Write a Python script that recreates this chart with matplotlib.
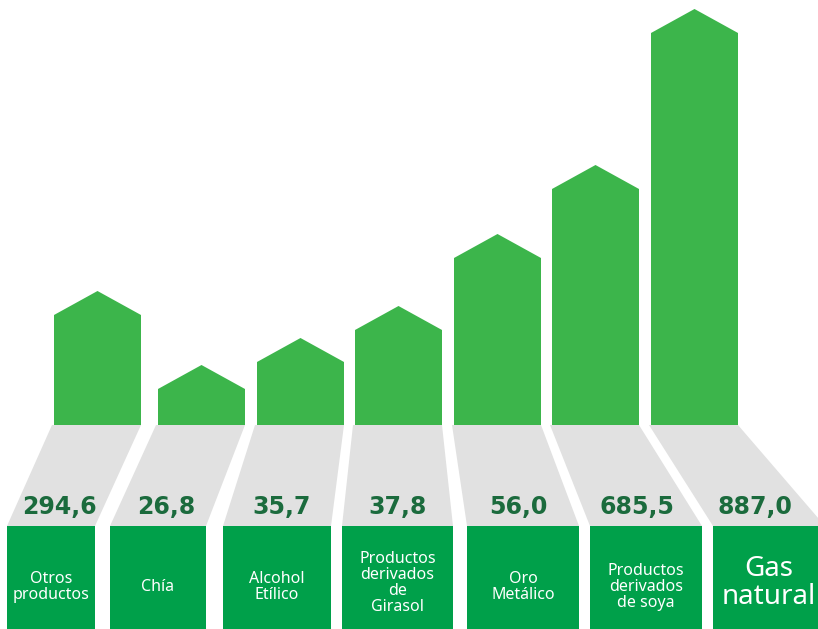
import matplotlib.pyplot as plt
from matplotlib.patches import Polygon, Rectangle

# Datos
categorias = ['Otros\nproductos', 'Chía', 'Alcohol\nEtílico',
              'Productos\nderivados\nde\nGirasol', 'Oro\nMetálico',
              'Productos\nderivados\nde soya', 'Gas\nnatural']
valores = [294.6, 26.8, 35.7, 37.8, 56.0, 685.5, 887.0]
# alto de cada flecha (hasta el hombro)
alturas = [110, 36, 63, 95, 167, 236, 392]

# Colores
verde = '#3cb54b'
verde_osc = '#00a04a'
gris = '#e1e1e1'
texto_val = '#1b6b3d'

fig = plt.figure(figsize=(8.18, 6.29), dpi=100)
ax = fig.add_axes([0, 0, 1, 1])
ax.set_xlim(0, 818)
ax.set_ylim(629, 0)
ax.axis('off')

base = 425          # base de las flechas
caja_top = 526      # arriba de las cajas verdes
ancho = 87
punta = 24
flecha_izq = [54, 158, 257, 355, 454, 552, 651]
caja_izq = [7, 110, 223, 342, 467, 590, 713]
caja_ancho = [88, 96, 108, 111, 112, 112, 112]

for i, (cat, val, h) in enumerate(zip(categorias, valores, alturas)):
    x0 = flecha_izq[i]
    x1 = x0 + ancho
    # flecha
    ax.add_patch(Polygon([(x0, base), (x0, base - h), ((x0 + x1) / 2, base - h - punta),
                          (x1, base - h), (x1, base)], closed=True, color=verde, lw=0))
    # trapecio gris
    bx0 = caja_izq[i]
    bx1 = bx0 + caja_ancho[i]
    ax.add_patch(Polygon([(x0 - 2, base), (x1, base), (bx1, caja_top), (bx0, caja_top)],
                         closed=True, color=gris, lw=0))
    # caja
    ax.add_patch(Rectangle((bx0, caja_top), bx1 - bx0, 629 - caja_top, color=verde_osc, lw=0))
    # valor
    yv = 507
    t = (yv - base) / (caja_top - base)
    cx = ((x0 + (bx0 - x0) * t) + (x1 + (bx1 - x1) * t)) / 2
    ax.text(cx, yv, f'{val:.1f}'.replace('.', ','), ha='center', va='center',
            fontsize=17, fontweight='bold', color=texto_val, family='DejaVu Sans')
    # categoría
    gas = cat.startswith('Gas')
    fs = 20 if gas else 11.5
    yc = 583 if (gas or 'Girasol' in cat) else 587
    ax.text((bx0 + bx1) / 2, yc, cat, ha='center', va='center', fontsize=fs,
            color='white', linespacing=1.0, family='Noto Sans')

fig.savefig('out.png', dpi=100)
